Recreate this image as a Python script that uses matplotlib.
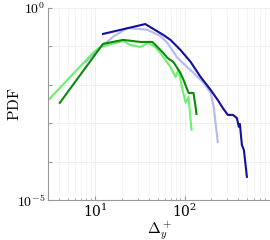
import matplotlib
matplotlib.use("Agg")
import matplotlib.pyplot as plt
import numpy as np

plt.rcParams["mathtext.fontset"] = "cm"
plt.rcParams["font.family"] = "serif"
plt.rcParams["font.serif"] = ["DejaVu Serif"]

# dark blue series
dy_navy = [12.3, 36.5, 58, 69.7, 90, 117, 151, 196, 235, 267, 304, 346,
           384, 404, 415, 437, 460, 497]
pdf_navy = [0.21, 0.38, 0.198, 0.147, 0.0806, 0.0393, 0.016, 0.0073, 0.004,
            0.00249, 0.00164, 0.00164, 0.00136, 0.0008, 0.00095, 0.00027,
            0.0002, 0.00004]

# light blue series
dy_lblue = [7.9, 11.4, 15.9, 22.9, 38.4, 53.7, 64.4, 83.4, 126, 164, 196,
            212, 235]
pdf_lblue = [0.039, 0.091, 0.176, 0.30, 0.27, 0.187, 0.123, 0.050, 0.0203,
             0.0111, 0.0061, 0.00264, 0.00032]

# dark green series
dy_dgreen = [4.05, 12.3, 20.6, 32.1, 43.7, 47.2, 58, 64.4, 75.2, 90, 97.5,
             111, 126, 133, 136]
pdf_dgreen = [0.00336, 0.1155, 0.147, 0.130, 0.130, 0.109, 0.0673, 0.050,
              0.039, 0.0203, 0.0133, 0.0061, 0.0061, 0.00264, 0.00174]

# light green series
dy_lgreen = [3.12, 9.5, 11.4, 20.6, 24.7, 32.1, 39.4, 47.2, 53.7, 69.7,
             79.3, 85.7, 95, 103, 111, 117, 120]
pdf_lgreen = [0.0043, 0.067, 0.096, 0.138, 0.109, 0.096, 0.123, 0.096,
              0.067, 0.029, 0.016, 0.0243, 0.0073, 0.0034, 0.0048, 0.0012,
              0.00067]

fig = plt.figure(figsize=(2.7, 2.4), dpi=100)
ax = fig.add_axes([0.178, 0.167, 0.822, 0.8])

ax.plot(dy_lblue, pdf_lblue, color="#b4b8f4", lw=1.5)
ax.plot(dy_navy, pdf_navy, color="#10109a", lw=1.5)
ax.plot(dy_lgreen, pdf_lgreen, color="#6cf06c", lw=1.5)
ax.plot(dy_dgreen, pdf_dgreen, color="#0a8a0a", lw=1.5)

ax.set_xscale("log")
ax.set_yscale("log")
ax.set_xlim(3, 900)
ax.set_ylim(1e-5, 1)

ax.set_yticks([10.0 ** k for k in range(-5, 1)])
ax.set_yticklabels([r"$10^{-5}$", "", "", "", "", r"$10^{0}$"])
ax.yaxis.set_minor_locator(matplotlib.ticker.NullLocator())

ax.grid(True, which="major", color="#ececec", lw=0.6)
ax.grid(True, which="minor", axis="x", color="#f2f2f2", lw=0.5)
ax.set_axisbelow(True)

for side in ["top", "right"]:
    ax.spines[side].set_visible(False)
for side in ["left", "bottom"]:
    ax.spines[side].set_color("#999999")
    ax.spines[side].set_linewidth(0.8)

ax.tick_params(which="both", direction="in", color="#999999",
               labelsize=10, pad=2)
ax.tick_params(which="major", length=3)
ax.tick_params(which="minor", length=1.5)

ax.set_xlabel(r"$\Delta_y^+$", fontsize=11, labelpad=-1)
ax.set_ylabel(r"$\mathrm{PDF}$", fontsize=11, labelpad=-4)

fig.savefig("out.png", dpi=100)
